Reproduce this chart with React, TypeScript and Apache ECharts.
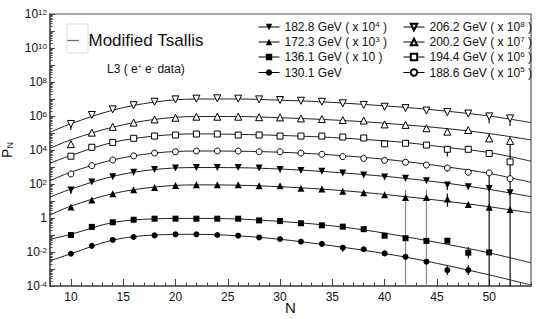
import React, { useEffect, useRef } from 'react';
import * as echarts from 'echarts';

// Multiplicity N of the measured points
const nValues = [10, 12, 14, 16, 18, 20, 22, 24, 26, 28, 30, 32, 34, 36, 38, 40, 42, 44, 46, 48, 50, 52];

// Measured P_N (already scaled as in the legend)
const s2062 = [3.4e5, 1.15e6, 2.45e6, 4.3e6, 6.9e6, 9.5e6, 1.05e7, 1.1e7, 1.05e7, 9.5e6, 8.7e6, 7.9e6, 6.9e6, 5.6e6, 4.5e6, 3.5e6, 2.9e6, 2.1e6, 1.7e6, 1.4e6, 9.5e5, 7.2e5];
const s2002 = [2.2e4, 1.05e5, 2.3e5, 4.1e5, 6.3e5, 7.9e5, 9.1e5, 9.1e5, 9.1e5, 8.5e5, 8.3e5, 7.2e5, 6.6e5, 5.8e5, 5.4e5, 3.2e5, 3.0e5, 1.9e5, 1.2e5, 1.5e5, 4.8e4, 3.4e4];
const s1944 = [4.3e3, 1.45e4, 2.8e4, 4.9e4, 6.6e4, 7.6e4, 8.7e4, 8.7e4, 7.6e4, 7.6e4, 6.6e4, 6.6e4, 6.6e4, 5.8e4, 5.1e4, 2.3e4, 2.5e4, 1.95e4, 1.1e4, 1.1e4, 6.2e3, 2.0e3];
const s1886 = [390, 1.2e3, 2.6e3, 4.5e3, 6.6e3, 7.9e3, 8.7e3, 8.7e3, 8.7e3, 7.9e3, 7.9e3, 6.6e3, 5.6e3, 4.1e3, 3.2e3, 2.45e3, 1.9e3, 1.3e3, 870, 490, 450, 205];
const s1828 = [45, 130, 270, 490, 720, 870, 950, 950, 950, 870, 720, 630, 560, 450, 340, 260, 215, 155, 87, 69, 54, 31];
const s1723 = [4.5, 11.5, 27, 46, 63, 83, 91, 91, 91, 79, 79, 56, 51, 37, 31, 23, 16, 16, 13, 6.3, 4.3, 3.2];
const s1361 = [0.1, 0.3, 0.56, 0.79, 0.91, 0.91, 0.91, 0.91, 0.91, 0.72, 0.66, 0.49, 0.37, 0.31, 0.22, 0.091, 0.065, 0.045, 0.046, 0.0091, 0.0095, null];
const s1301 = [0.0079, 0.023, 0.051, 0.076, 0.095, 0.11, 0.11, 0.1, 0.091, 0.072, 0.058, 0.041, 0.03, 0.018, 0.0145, 0.0083, 0.0052, 0.0027, 0.00087, 0.00087, null, null];

// Modified Tsallis fit curves, read at these N
const fitN = [8, 10, 14, 18, 22, 26, 30, 34, 38, 42, 46, 50, 54];
const f2062 = [1.1e5, 3.5e5, 2.2e6, 6.6e6, 1.0e7, 1.0e7, 8.5e6, 6.8e6, 4.8e6, 3.2e6, 1.9e6, 1.0e6, 4.1e5];
const f2002 = [1.26e4, 4.0e4, 2.2e5, 6.3e5, 9.3e5, 9.3e5, 7.9e5, 6.3e5, 4.6e5, 3.0e5, 1.8e5, 9.3e4, 3.9e4];
const f1944 = [1.66e3, 4.8e3, 2.8e4, 6.6e4, 8.9e4, 8.3e4, 7.2e4, 5.8e4, 4.2e4, 2.75e4, 1.4e4, 7.1e3, 2.2e3];
const f1886 = [155, 500, 2.6e3, 6.6e3, 8.7e3, 8.5e3, 7.4e3, 5.6e3, 3.7e3, 2.1e3, 1.0e3, 420, 126];
const f1828 = [17, 50, 280, 710, 930, 910, 760, 550, 360, 215, 110, 48, 18];
const f1723 = [1.5, 5.0, 27, 66, 89, 85, 69, 50, 32, 18, 9.5, 4.6, 2.0];
const f1361 = [0.056, 0.11, 0.54, 0.89, 0.95, 0.87, 0.63, 0.4, 0.2, 0.079, 0.028, 0.0089, 0.0023];
const f1301 = [0.003, 0.0079, 0.05, 0.1, 0.11, 0.089, 0.056, 0.028, 0.0126, 0.005, 0.0016, 0.00045, 0.000115];

// Error bars [N, low, high]
const errBlack = [
  [10, 1.5e5, 4.6e5], [50, 3.7e5, 9.5e5], [52, 2.6e5, 7.2e5],
  [10, 1.55e4, 3.1e4], [50, 3.1e4, 9.5e4], [52, 1e-6, 4e4],
  [46, 4.1e3, 1.55e4], [46, 520, 1.3e3], [50, 1e-6, 660],
  [46, 45, 110], [10, 26, 63], [46, 4.6, 28],
  [48, 0.0043, 0.02], [46, 0.00045, 0.0017], [48, 0.00045, 0.0017], [36, 0.0105, 0.026],
];
const errGray = [[42, 1e-6, 45], [44, 1e-6, 45]];

const names = ['182.8 GeV', '172.3 GeV', '136.1 GeV', '130.1 GeV', '206.2 GeV', '200.2 GeV', '194.4 GeV', '188.6 GeV'];
const legendLabels: Record<string, string> = {
  '182.8 GeV': '182.8 GeV ( x 10{sup|4} )',
  '172.3 GeV': '172.3 GeV ( x 10{sup|3} )',
  '136.1 GeV': '136.1 GeV ( x 10 )',
  '130.1 GeV': '130.1 GeV',
  '206.2 GeV': '206.2 GeV ( x 10{sup|8} )',
  '200.2 GeV': '200.2 GeV ( x 10{sup|7} )',
  '194.4 GeV': '194.4 GeV ( x 10{sup|6} )',
  '188.6 GeV': '188.6 GeV ( x 10{sup|5} )',
};

const yLabelValues = [1e-4, 1e-2, 1, 1e2, 1e4, 1e6, 1e8, 1e10, 1e12];
const yMajorTicks = [1e-4, 1e-3, 1e-2, 1e-1, 1, 1e1, 1e2, 1e3, 1e4, 1e5, 1e6, 1e7, 1e8, 1e9, 1e10, 1e11, 1e12];
const xLabelValues = [10, 15, 20, 25, 30, 35, 40, 45, 50];

const FONT = '"Liberation Sans", Arial, sans-serif';

export default function App() {
  const ref = useRef<HTMLDivElement>(null);
  useEffect(() => {
    if (!ref.current) return;
    const chart = echarts.init(ref.current, null, { renderer: 'svg' });

    const yMinor: number[] = [];
    yMajorTicks.slice(0, -1).forEach((d) => {
      for (let k = 2; k <= 9; k++) yMinor.push(d * k);
    });
    const xMinor: number[] = [];
    for (let v = 8; v <= 54; v++) if (v % 5 !== 0) xMinor.push(v);

    const dataSets = [s1828, s1723, s1361, s1301, s2062, s2002, s1944, s1886];
    const fits = [f1828, f1723, f1361, f1301, f2062, f2002, f1944, f1886];
    const symbols = ['triangle', 'triangle', 'rect', 'circle', 'triangle', 'triangle', 'rect', 'circle'];
    const rotates = [180, 0, 0, 0, 180, 0, 0, 0];
    const filled = [true, true, true, true, false, false, false, false];

    const pointSeries = dataSets.map((arr, i) => ({
      type: 'line',
      name: names[i],
      data: nValues.map((n, j) => (arr[j] == null ? null : [n, arr[j]])).filter((d) => d !== null),
      symbol: symbols[i],
      symbolRotate: rotates[i],
      symbolSize: symbols[i] === 'triangle' ? 7 : 6,
      showSymbol: true,
      lineStyle: { width: 0, opacity: 0 },
      itemStyle: filled[i]
        ? { color: '#000', borderColor: '#000', borderWidth: 0 }
        : { color: '#fff', borderColor: '#000', borderWidth: 1 },
      z: 5,
    }));

    const fitSeries = fits.map((arr) => ({
      type: 'line',
      name: 'Modified Tsallis',
      data: fitN.map((n, j) => [n, arr[j]]),
      smooth: 0.35,
      symbol: 'none',
      lineStyle: { color: '#222', width: 1 },
      itemStyle: { color: '#666' },
      z: 3,
    }));

    const errRender = (color: string) => (params: any, api: any) => {
      const a = api.coord([api.value(0), api.value(1)]);
      const b = api.coord([api.value(0), api.value(2)]);
      return {
        type: 'line',
        shape: { x1: a[0], y1: a[1], x2: b[0], y2: b[1] },
        style: { stroke: color, lineWidth: 1.2 },
      };
    };

    const legendBase = {
      orient: 'vertical',
      itemHeight: 8,
      itemWidth: 21,
      padding: 0,
      selectedMode: false,
      formatter: (name: string) => legendLabels[name] || name,
      textStyle: {
        fontFamily: FONT,
        fontSize: 12,
        lineHeight: 14,
        color: '#111',
        rich: { sup: { fontSize: 8, verticalAlign: 'top', lineHeight: 8, fontFamily: FONT, color: '#111' } },
      },
      lineStyle: { color: '#000', width: 1, opacity: 1 },
    };
    const rowTops = [20, 35, 50, 65.5];
    const itemLegends = names.map((nm, i) => ({
      ...legendBase,
      left: i < 4 ? 258 : 403,
      top: rowTops[i % 4],
      data: [nm],
    }));

    chart.setOption({
      animation: false,
      backgroundColor: '#fff',
      grid: {
        left: 50, right: 23, top: 14, bottom: 33, show: true, borderColor: '#555', borderWidth: 1.2,
        backgroundColor: 'transparent', outerBoundsMode: 'none', containLabel: false,
      },
      legend: [
        ...itemLegends,
        {
          left: 67, top: 32, itemWidth: 21, itemHeight: 1.2, padding: 0, selectedMode: false,
          data: [{ name: 'Modified Tsallis', icon: 'path://M0,0 H10 V1 H0 Z', itemStyle: { color: '#666' } }],
          textStyle: { fontFamily: FONT, fontSize: 17, color: '#111' },
        },
      ],
      xAxis: [
        {
          type: 'value', min: 8, max: 54, gridIndex: 0,
          name: 'N', nameLocation: 'middle', nameGap: 14, nameMoveOverlap: false,
          nameTextStyle: { fontFamily: FONT, fontSize: 15, color: '#111', align: 'center', verticalAlign: 'top' },
          axisLine: { show: true, lineStyle: { color: '#555', width: 1.5 } },
          axisTick: { show: true, inside: true, length: 7, customValues: xLabelValues, lineStyle: { color: '#444', width: 1 } },
          axisLabel: { customValues: xLabelValues, margin: 5, fontFamily: FONT, fontSize: 12, color: '#111' },
          splitLine: { show: false },
        },
        {
          type: 'value', min: 8, max: 54, gridIndex: 0, position: 'bottom',
          axisLine: { show: false },
          axisTick: { show: true, inside: true, length: 3.5, customValues: xMinor, lineStyle: { color: '#444', width: 1 } },
          axisLabel: { show: false },
          splitLine: { show: false },
        },
      ],
      yAxis: [
        {
          type: 'log', logBase: 10, min: 1e-4, max: 1e12, gridIndex: 0,
          name: 'P{sub|N}', nameLocation: 'middle', nameGap: 36, nameRotate: 90, nameMoveOverlap: false,
          nameTextStyle: {
            fontFamily: FONT, fontSize: 14, color: '#111',
            rich: { sub: { fontSize: 9, verticalAlign: 'bottom', lineHeight: 9, fontFamily: FONT, color: '#111' } },
          },
          axisLine: { show: true, lineStyle: { color: '#555', width: 1.5 } },
          axisTick: { show: true, inside: true, length: 5, customValues: yMajorTicks, lineStyle: { color: '#444', width: 1 } },
          axisLabel: {
            customValues: yLabelValues, margin: 3, fontFamily: FONT, fontSize: 12, color: '#111',
            formatter: (v: number) => {
              const e = Math.round(Math.log10(v));
              return e === 0 ? '1' : '10{sup|' + e + '}';
            },
            rich: { sup: { fontSize: 8, verticalAlign: 'top', lineHeight: 8, fontFamily: FONT, color: '#111' } },
          },
          splitLine: { show: false },
          minorTick: { show: false },
        },
        {
          type: 'log', logBase: 10, min: 1e-4, max: 1e12, gridIndex: 0, position: 'left',
          axisLine: { show: false },
          axisTick: { show: true, inside: true, length: 2.5, customValues: yMinor, lineStyle: { color: '#444', width: 1 } },
          axisLabel: { show: false },
          splitLine: { show: false },
        },
      ],
      graphic: [
        { type: 'rect', shape: { x: 67, y: 24, width: 21, height: 29 }, style: { fill: 'none', stroke: '#ddd', lineWidth: 1 }, z: 10 },
        {
          type: 'text', x: 107, y: 69,
          style: {
            text: 'L3 ( e{sup|+} e{sup|-} data)', fontFamily: FONT, fontSize: 12, fill: '#111', verticalAlign: 'middle',
            rich: { sup: { fontSize: 7, verticalAlign: 'top', lineHeight: 7, fontFamily: FONT, fill: '#111' } },
          },
          z: 10,
        },
      ],
      series: [
        ...fitSeries,
        ...pointSeries,
        { type: 'custom', name: 'errBlack', data: errBlack, renderItem: errRender('#111'), clip: true, z: 4, encode: { x: 0, y: [1, 2] } },
        { type: 'custom', name: 'errGray', data: errGray, renderItem: errRender('#888'), clip: true, z: 4, encode: { x: 0, y: [1, 2] } },
      ],
    });
    return () => chart.dispose();
  }, []);
  return <div ref={ref} style={{ width: 554, height: 319, position: 'absolute', left: 0, top: 0 }} />;
}
